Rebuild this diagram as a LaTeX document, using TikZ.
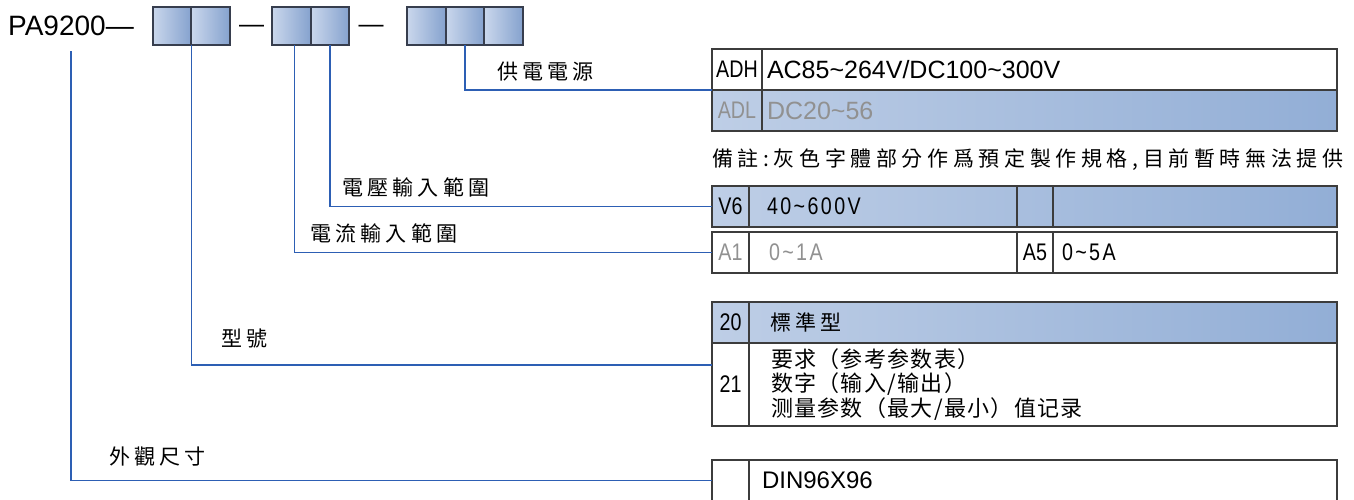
\documentclass[tikz,border=0pt]{standalone}
\usepackage{fontspec}
\usepackage{tikz}
\usetikzlibrary{positioning}
\setmainfont{Liberation Sans}
\newfontfamily\condfont{Liberation Sans}[FakeStretch=0.82]
\newfontfamily\condwide{Liberation Sans}[FakeStretch=0.82, LetterSpace=10]
\newfontfamily\cjk{Noto Sans CJK TC}[LetterSpace=20]
\newfontfamily\cjknote{Noto Sans CJK TC}[LetterSpace=22]
\newfontfamily\cjksc{Noto Sans CJK SC}[LetterSpace=6]
\newcommand\tld{\textasciitilde}
\definecolor{boxlight}{RGB}{202,215,236}
\definecolor{boxdark}{RGB}{133,162,206}
\definecolor{rowlight}{RGB}{190,206,230}
\definecolor{rowdark}{RGB}{146,174,214}
\definecolor{boxedge}{RGB}{55,62,78}
\definecolor{gridgray}{RGB}{60,60,60}
\definecolor{textgray}{RGB}{145,145,145}
\definecolor{linkblue}{RGB}{45,95,180}

\begin{document}
\begin{tikzpicture}[x=1pt, y=-1pt,
		codebox/.style={draw=boxedge, line width=1.6pt, left color=boxlight, right color=boxdark, minimum width=38.5pt, minimum height=38pt, inner sep=0pt, outer sep=0pt},
		cell/.style={draw=gridgray, line width=1.1pt, minimum height=41pt, inner sep=0pt, outer sep=0pt, anchor=west},
		rowbg/.style={left color=rowlight, right color=rowdark, minimum width=625pt, minimum height=41pt, inner sep=0pt, outer sep=0pt, anchor=west},
		link/.style={draw=linkblue, line width=1.3pt},
		lbl/.style={font=\cjk\fontsize{21}{24}\selectfont, inner sep=0pt, anchor=west},
		code/.style={font=\condfont\fontsize{24}{26}\selectfont},
		codeval/.style={font=\condwide\fontsize{24}{26}\selectfont},
		big/.style={font=\fontsize{25}{27}\selectfont}
	]

	\useasboundingbox (0,0) rectangle (1354,499);
	\clip (0,0) rectangle (1354,499);

	% order code
	\node[font=\fontsize{28}{30}\selectfont, inner sep=0pt, anchor=base west] (pa) at (8,35) {PA9200—};
	\node[codebox] (g1a) at (172,26) {};
	\node[codebox, right=0pt of g1a] (g1b) {};
	\node[font=\fontsize{25}{27}\selectfont, inner sep=0pt, anchor=base] (d1) at (251.5,32) {—};
	\node[codebox] (g2a) at (291.5,26) {};
	\node[codebox, right=0pt of g2a] (g2b) {};
	\node[font=\fontsize{25}{27}\selectfont, inner sep=0pt, anchor=base] (d2) at (371,32) {—};
	\node[codebox] (g3a) at (426.5,26) {};
	\node[codebox, right=0pt of g3a] (g3b) {};
	\node[codebox, right=0pt of g3b] (g3c) {};

	% power supply
	\node[cell, code, minimum width=50pt] (adh) at (712,69.5) {ADH};
	\node[cell, big, inner xsep=5pt, text width=565pt, align=left, right=0pt of adh] (adhv) {AC85\tld264V/DC100\tld300V};
	\node[rowbg] (adlrow) at (712,110.5) {};
	\node[cell, code, text=textgray, minimum width=50pt] (adl) at (712,110.5) {ADL};
	\node[cell, big, text=textgray, inner xsep=5pt, text width=565pt, align=left, right=0pt of adl] (adlv) {DC20\tld56};

	\node[lbl, font=\cjknote\fontsize{21}{24}\selectfont] (note) at (712,160) {備註:灰色字體部分作爲預定製作規格,目前暫時無法提供};

	% voltage input
	\node[rowbg] (v6row) at (712,206.5) {};
	\node[cell, code, minimum width=37pt] (v6) at (712,206.5) {V6};
	\node[cell, codeval, inner xsep=18pt, text width=232pt, align=left, right=0pt of v6] (v6v) {40\tld600V};
	\node[cell, minimum width=36pt, right=0pt of v6v] (v6x) {};
	\node[cell, minimum width=284pt, right=0pt of v6x] (v6y) {};

	% current input
	\node[cell, code, text=textgray, minimum width=37pt] (a1) at (712,252.5) {A1};
	\node[cell, codeval, text=textgray, inner xsep=20pt, text width=228pt, align=left, right=0pt of a1] (a1v) {0\tld1A};
	\node[cell, code, minimum width=36pt, right=0pt of a1v] (a5) {A5};
	\node[cell, codeval, inner xsep=9pt, text width=266pt, align=left, right=0pt of a5] (a5v) {0\tld5A};

	% model
	\node[rowbg] (m20row) at (712,322.5) {};
	\node[cell, code, minimum width=37pt] (m20) at (712,322.5) {20};
	\node[cell, font=\cjk\fontsize{21}{24}\selectfont, inner xsep=21pt, text width=546pt, align=left, right=0pt of m20] (m20v) {標準型};
	\node[cell, code, minimum width=37pt, minimum height=83pt] (m21) at (712,384.5) {21};
	\node[cell, font=\cjksc\fontsize{22}{24.5}\selectfont, minimum height=83pt, inner xsep=22pt, text width=544pt, align=left, right=0pt of m21] (m21v) {要求（参考参数表）\\数字（输入/输出）\\测量参数（最大/最小）值记录};
	\coordinate (mdlin) at (712,365);

	% size
	\node[cell, minimum width=37pt] (din) at (712,480.5) {};
	\node[cell, font=\fontsize{24}{26}\selectfont, inner xsep=13pt, text width=562pt, align=left, right=0pt of din] (dinv) {DIN96X96};

	% labels
	\node[lbl] (lpow) at (497,72) {供電電源};
	\node[lbl] (lvol) at (342,187) {電壓輸入範圍};
	\node[lbl] (lcur) at (310,233) {電流輸入範圍};
	\node[lbl] (lmdl) at (221,339) {型號};
	\node[lbl] (lsize) at (109,457) {外觀尺寸};

	% connectors
	\draw[link] (g3b.south) |- (adh.south west);
	\draw[link] (g2b.south) |- (v6.west);
	\draw[link] ([xshift=3pt]g2a.south) |- (a1.west);
	\draw[link] (g1a.south east) |- (mdlin);
	\draw[link] ([yshift=-16pt]pa.south) |- (din.west);

\end{tikzpicture}
\end{document}
